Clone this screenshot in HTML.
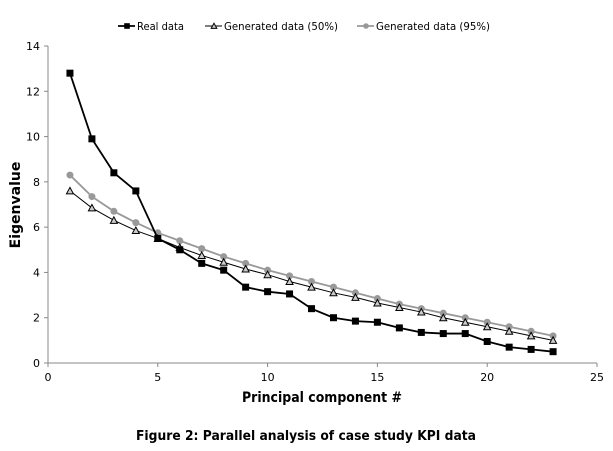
<!DOCTYPE html>
<html><head><meta charset="utf-8"><style>
html,body{margin:0;padding:0;background:#fff;}
svg{display:block;font-family:"DejaVu Sans","Liberation Sans",sans-serif;}
</style></head><body>
<svg id="c" width="613" height="451"></svg>
<script>
const xTicks=[0,5,10,15,20,25];
const yTicks=[0,2,4,6,8,10,12,14];
const components=[1,2,3,4,5,6,7,8,9,10,11,12,13,14,15,16,17,18,19,20,21,22,23];
const realData=[12.8,9.9,8.4,7.6,5.5,5.0,4.4,4.1,3.35,3.15,3.05,2.4,2.0,1.85,1.8,1.55,1.35,1.3,1.3,0.95,0.7,0.6,0.5];
const gen50=[7.6,6.85,6.3,5.85,5.5,5.1,4.75,4.45,4.15,3.9,3.6,3.35,3.1,2.9,2.65,2.45,2.25,2.0,1.8,1.6,1.4,1.2,1.0];
const gen95=[8.3,7.35,6.7,6.2,5.75,5.4,5.05,4.7,4.4,4.1,3.85,3.6,3.35,3.1,2.85,2.6,2.4,2.2,2.0,1.8,1.6,1.4,1.2];
const svg=document.getElementById('c');const NS='http://www.w3.org/2000/svg';
const X0=48,X1=597,Y0=363,Y1=46;
const xs=v=>X0+(v-0)/25*(X1-X0);
const ys=v=>Y0-(v-0)/14*(Y0-Y1);
function mk(t,a,p){const e=document.createElementNS(NS,t);for(const k in a)e.setAttribute(k,a[k]);(p||svg).appendChild(e);return e;}
let g=mk('g',{});


mk('line',{x1:X0,y1:Y1,x2:X0,y2:Y0,stroke:'#888','stroke-width':1},g);
mk('line',{x1:X0,y1:Y0,x2:X1,y2:Y0,stroke:'#888','stroke-width':1},g);
xTicks.forEach(v=>{mk('line',{x1:xs(v),y1:Y0,x2:xs(v),y2:Y0+4,stroke:'#888'},g);
const t=mk('text',{x:xs(v),y:Y0+18,'text-anchor':'middle','font-size':11,fill:'#000'},g);t.textContent=v;

});
yTicks.forEach(v=>{mk('line',{x1:X0-4,y1:ys(v),x2:X0,y2:ys(v),stroke:'#888'},g);
const t=mk('text',{x:X0-8,y:ys(v)+4,'text-anchor':'end','font-size':11,fill:'#000'},g);t.textContent=v;

});
let t=mk('text',{x:322,y:402,'text-anchor':'middle','font-size':14,'font-weight':'bold',textLength:160,lengthAdjust:'spacingAndGlyphs'});t.textContent='Principal component #';


t=mk('text',{x:20,y:205,'text-anchor':'middle','font-size':14,'font-weight':'bold',transform:'rotate(-90 20 205)'});t.textContent='Eigenvalue';


t=mk('text',{x:306,y:440,'text-anchor':'middle','font-size':13,'font-weight':'bold',textLength:340,lengthAdjust:'spacingAndGlyphs'});t.textContent='Figure 2: Parallel analysis of case study KPI data';


function marker(type,x,y,col,p,s){
 s=s||1;
 if(type==='sq')return mk('rect',{x:x-3.5*s,y:y-3.5*s,width:7*s,height:7*s,fill:col},p);
 if(type==='tri')return mk('path',{d:`M${x},${y-3.5*s}L${x+3.5*s},${y+3*s}L${x-3.5*s},${y+3*s}Z`,fill:'#ccc',stroke:'#000','stroke-width':1},p);
 return mk('circle',{cx:x,cy:y,r:3.5*s,fill:col},p);
}
function series(vals,col,type,name,w){
 const sg=mk('g',{});
 
 
 mk('polyline',{points:vals.map((v,i)=>xs(components[i])+','+ys(v)).join(' '),fill:'none',stroke:col,'stroke-width':w},sg);
 vals.forEach((v,i)=>{const m=marker(type,xs(components[i]),ys(v),col,sg);
 
 });
}
series(gen95,'#999','ci','series-generated-95',1.8);
series(gen50,'#000','tri','series-generated-50',1);
series(realData,'#000','sq','series-real-data',1.8);
const lg=mk('g',{});


const items=[['sq','#000','Real data',118,1.8,47],['tri','#000','Generated data (50%)',205,1,114],['ci','#999','Generated data (95%)',357,1.8,114]];
items.forEach(it=>{const e=mk('g',{},lg);


mk('line',{x1:it[3],y1:26,x2:it[3]+17,y2:26,stroke:it[1],'stroke-width':it[4]},e);
marker(it[0],it[3]+9,26,it[1],e,0.8);
const tt=mk('text',{x:it[3]+19,y:30,'font-size':11,textLength:it[5],lengthAdjust:'spacingAndGlyphs'},e);tt.textContent=it[2];});
</script>
</body></html>
